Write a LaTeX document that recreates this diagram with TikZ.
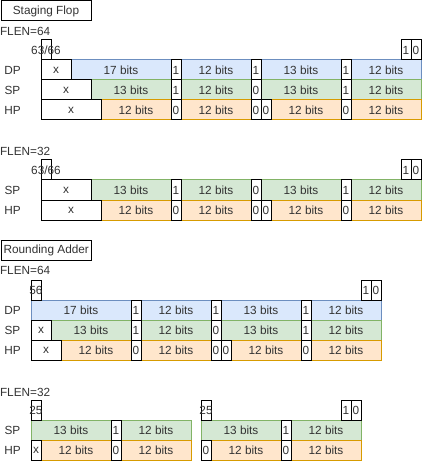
\documentclass[tikz,border=0pt]{standalone}
\usepackage{fontspec}
\setmainfont{Liberation Sans}
\definecolor{bfill}{HTML}{DAE8FC}\definecolor{bline}{HTML}{6C8EBF}
\definecolor{gfill}{HTML}{D5E8D4}\definecolor{gline}{HTML}{82B366}
\definecolor{ofill}{HTML}{FFE6CC}\definecolor{oline}{HTML}{D79B00}
\definecolor{txtc}{HTML}{333333}
\newcommand{\bcell}[6]{%
  \pgfmathsetmacro\cw{#4-#3}\pgfmathsetmacro\cx{(#3+#4)/2}%
  \node[#1, minimum width=\cw pt] (#2) at (\cx,#5+10) {#6};}
\newcommand{\tcell}[6]{%
  \pgfmathsetmacro\cw{#4-#3}\pgfmathsetmacro\cx{(#3+#4)/2}%
  \node[#1, minimum width=\cw pt] (#2) at (\cx,#5+10) {};
  \node[txt] (#2t) at (#2.center) {#6};}
\tikzset{
  every node/.style={font=\fontsize{11.8}{14}\selectfont, text=txtc, inner sep=0pt, outer sep=0pt},
  cellbase/.style={minimum height=20pt, line width=1pt},
  bc/.style={cellbase, fill=bfill, draw=bline},
  gc/.style={cellbase, fill=gfill, draw=gline},
  oc/.style={cellbase, fill=ofill, draw=oline},
  wc/.style={cellbase, fill=white, draw=black},
  txt/.style={},
  lbl/.style={anchor=center},
  flen/.style={anchor=west},
  title/.style={draw=black, fill=white, line width=1pt, minimum height=20pt},
}
\begin{document}
\begin{tikzpicture}[x=1pt,y=-1pt]
\useasboundingbox (0,0) rectangle (422,462);
% ---------- Staging Flop ----------
\node[title, minimum width=90pt] (t1) at (46,11) {Staging Flop};
\node[flen] (f1) at (0,31) {FLEN=64};
\node[lbl] (l1a) at (12.5,70) {DP};
\node[lbl] (l1b) at (12.5,90) {SP};
\node[lbl] (l1c) at (12.5,110) {HP};
\bcell{bc}{a1}{71}{171}{60}{17 bits}
\bcell{bc}{a2}{181}{251}{60}{12 bits}
\bcell{bc}{a3}{261}{341}{60}{13 bits}
\bcell{bc}{a4}{351}{421}{60}{12 bits}
\bcell{gc}{b1}{91}{171}{80}{13 bits}
\bcell{gc}{b2}{181}{251}{80}{12 bits}
\bcell{gc}{b3}{261}{341}{80}{13 bits}
\bcell{gc}{b4}{351}{421}{80}{12 bits}
\bcell{oc}{c1}{101}{171}{100}{12 bits}
\bcell{oc}{c2}{181}{251}{100}{12 bits}
\bcell{oc}{c3}{271}{341}{100}{12 bits}
\bcell{oc}{c4}{351}{421}{100}{12 bits}
\bcell{wc}{aw1}{41}{71}{60}{x}
\bcell{wc}{aw2}{171}{181}{60}{1}
\bcell{wc}{aw3}{251}{261}{60}{1}
\bcell{wc}{aw4}{341}{351}{60}{1}
\bcell{wc}{bw1}{41}{91}{80}{x}
\bcell{wc}{bw2}{171}{181}{80}{1}
\bcell{wc}{bw3}{251}{261}{80}{0}
\bcell{wc}{bw4}{341}{351}{80}{1}
\bcell{wc}{cw1}{41}{101}{100}{x}
\bcell{wc}{cw2}{171}{181}{100}{0}
\bcell{wc}{cw3}{251}{261}{100}{0}
\bcell{wc}{cw4}{261}{271}{100}{0}
\bcell{wc}{cw5}{341}{351}{100}{0}
\tcell{wc}{p1}{41}{51}{40}{63/66}
\bcell{wc}{p2}{401}{411}{40}{1}
\bcell{wc}{p3}{411}{421}{40}{0}
% ---------- FLEN=32 ----------
\node[flen] (f2) at (0,151) {FLEN=32};
\node[lbl] (l2b) at (12.5,190) {SP};
\node[lbl] (l2c) at (12.5,210) {HP};
\bcell{gc}{d1}{91}{171}{180}{13 bits}
\bcell{gc}{d2}{181}{251}{180}{12 bits}
\bcell{gc}{d3}{261}{341}{180}{13 bits}
\bcell{gc}{d4}{351}{421}{180}{12 bits}
\bcell{oc}{e1}{101}{171}{200}{12 bits}
\bcell{oc}{e2}{181}{251}{200}{12 bits}
\bcell{oc}{e3}{271}{341}{200}{12 bits}
\bcell{oc}{e4}{351}{421}{200}{12 bits}
\bcell{wc}{dw1}{41}{91}{180}{x}
\bcell{wc}{dw2}{171}{181}{180}{1}
\bcell{wc}{dw3}{251}{261}{180}{0}
\bcell{wc}{dw4}{341}{351}{180}{1}
\bcell{wc}{ew1}{41}{101}{200}{x}
\bcell{wc}{ew2}{171}{181}{200}{0}
\bcell{wc}{ew3}{251}{261}{200}{0}
\bcell{wc}{ew4}{261}{271}{200}{0}
\bcell{wc}{ew5}{341}{351}{200}{0}
\tcell{wc}{q1}{41}{51}{160}{63/66}
\bcell{wc}{q2}{401}{411}{160}{1}
\bcell{wc}{q3}{411}{421}{160}{0}
% ---------- Rounding Adder ----------
\node[title, minimum width=89.5pt] (t2) at (46.25,250) {Rounding Adder};
\node[flen] (f3) at (0,270) {FLEN=64};
\node[lbl] (l3a) at (12.5,310) {DP};
\node[lbl] (l3b) at (12.5,330) {SP};
\node[lbl] (l3c) at (12.5,350) {HP};
\bcell{bc}{g1}{31}{131}{300}{17 bits}
\bcell{bc}{g2}{141}{211}{300}{12 bits}
\bcell{bc}{g3}{221}{301}{300}{13 bits}
\bcell{bc}{g4}{311}{381}{300}{12 bits}
\bcell{gc}{h1}{51}{131}{320}{13 bits}
\bcell{gc}{h2}{141}{211}{320}{12 bits}
\bcell{gc}{h3}{221}{301}{320}{13 bits}
\bcell{gc}{h4}{311}{381}{320}{12 bits}
\bcell{oc}{i1}{61}{131}{340}{12 bits}
\bcell{oc}{i2}{141}{211}{340}{12 bits}
\bcell{oc}{i3}{231}{301}{340}{12 bits}
\bcell{oc}{i4}{311}{381}{340}{12 bits}
\bcell{wc}{gw1}{131}{141}{300}{1}
\bcell{wc}{gw2}{211}{221}{300}{1}
\bcell{wc}{gw3}{301}{311}{300}{1}
\bcell{wc}{hw1}{31}{51}{320}{x}
\bcell{wc}{hw2}{131}{141}{320}{1}
\bcell{wc}{hw3}{211}{221}{320}{0}
\bcell{wc}{hw4}{301}{311}{320}{1}
\bcell{wc}{iw1}{31}{61}{340}{x}
\bcell{wc}{iw2}{131}{141}{340}{0}
\bcell{wc}{iw3}{211}{221}{340}{0}
\bcell{wc}{iw4}{221}{231}{340}{0}
\bcell{wc}{iw5}{301}{311}{340}{0}
\tcell{wc}{r1}{31}{41}{280}{56}
\bcell{wc}{r2}{361}{371}{280}{1}
\bcell{wc}{r3}{371}{381}{280}{0}
% ---------- FLEN=32 ----------
\node[flen] (f4) at (0,392) {FLEN=32};
\node[lbl] (l4b) at (12.5,430) {SP};
\node[lbl] (l4c) at (12.5,450) {HP};
\bcell{gc}{j1}{31}{111}{420}{13 bits}
\bcell{gc}{j2}{121}{191}{420}{12 bits}
\bcell{gc}{j3}{201}{281}{420}{13 bits}
\bcell{gc}{j4}{291}{361}{420}{12 bits}
\bcell{oc}{k1}{41}{111}{440}{12 bits}
\bcell{oc}{k2}{121}{191}{440}{12 bits}
\bcell{oc}{k3}{211}{281}{440}{12 bits}
\bcell{oc}{k4}{291}{361}{440}{12 bits}
\bcell{wc}{jw1}{111}{121}{420}{1}
\bcell{wc}{jw2}{281}{291}{420}{1}
\bcell{wc}{kw1}{31}{41}{440}{x}
\bcell{wc}{kw2}{111}{121}{440}{0}
\bcell{wc}{kw3}{201}{211}{440}{0}
\bcell{wc}{kw4}{281}{291}{440}{0}
\tcell{wc}{s1}{31}{41}{400}{25}
\tcell{wc}{s2}{201}{211}{400}{25}
\bcell{wc}{s3}{341}{351}{400}{1}
\bcell{wc}{s4}{351}{361}{400}{0}
\end{tikzpicture}
\end{document}
